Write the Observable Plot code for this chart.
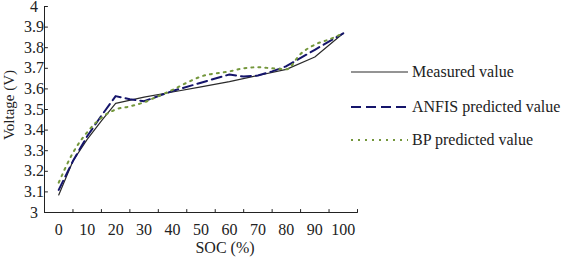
<!DOCTYPE html>
<html>
<head>
<meta charset="utf-8">
<script src="https://cdn.jsdelivr.net/npm/d3@7"></script>
<script src="https://cdn.jsdelivr.net/npm/@observablehq/plot@0.6"></script>
<style>
  html, body { margin: 0; padding: 0; background: #fff; }
  #chart { position: relative; width: 572px; height: 262px; font-family: "Liberation Serif", "Times New Roman", serif; color: #222; }
  #chart svg.plot { position: absolute; left: 0; top: 0; }
  .legend { position: absolute; left: 351px; top: 0; font-size: 16px; }
  .legend .item { position: absolute; left: 0; white-space: nowrap; display: flex; align-items: center; height: 20px; }
  .legend .item svg { display: block; margin-right: 4px; }
  .axis-title { position: absolute; font-size: 16px; white-space: nowrap; line-height: 1; }
  .axis-title.x { left: 225px; top: 248px; transform: translate(-50%, -50%); }
  .axis-title.y { left: 9px; top: 105px; transform: translate(-50%, -50%) rotate(-90deg); font-size: 15px; }
</style>
</head>
<body>
<div id="chart"></div>
<script>
// State of charge (%) and terminal voltage (V) for each series
const measuredSoc = [0, 5, 10, 15, 20, 30, 40, 50, 60, 70, 80, 90, 100];
const measuredV   = [3.085, 3.25, 3.355, 3.445, 3.53, 3.56, 3.585, 3.61, 3.635, 3.665, 3.695, 3.755, 3.87];

const anfisSoc = [0, 5, 10, 15, 20, 25, 30, 35, 40, 50, 60, 65, 70, 75, 80, 90, 100];
const anfisV   = [3.11, 3.25, 3.37, 3.47, 3.565, 3.55, 3.54, 3.565, 3.59, 3.63, 3.67, 3.66, 3.665, 3.685, 3.71, 3.79, 3.87];

const bpSoc = [0, 5, 10, 15, 20, 25, 30, 35, 40, 45, 50, 60, 65, 70, 75, 80, 85, 90, 95, 100];
const bpV   = [3.145, 3.29, 3.39, 3.46, 3.50, 3.515, 3.535, 3.565, 3.595, 3.63, 3.66, 3.685, 3.70, 3.705, 3.70, 3.695, 3.77, 3.815, 3.84, 3.87];

// Axis labels and tick positions
const xLabels = [0, 10, 20, 30, 40, 50, 60, 70, 80, 90, 100];
const xTickMarks = [5, 15, 25, 35, 45, 55, 65, 75, 85, 95, 105];
const yTicks = [3, 3.1, 3.2, 3.3, 3.4, 3.5, 3.6, 3.7, 3.8, 3.9, 4];

const seriesNames = ["Measured value", "ANFIS predicted value", "BP predicted value"];
const xTitle = "SOC (%)";
const yTitle = "Voltage (V)";

const toRows = (soc, v) => soc.map((s, i) => ({soc: s, v: v[i]}));
const measured = toRows(measuredSoc, measuredV);
const anfis = toRows(anfisSoc, anfisV);
const bp = toRows(bpSoc, bpV);

const styles = [
  {stroke: "#2a2a2a", strokeWidth: 1.2, dash: null},
  {stroke: "#15156b", strokeWidth: 2, dash: "10,5"},
  {stroke: "#74973c", strokeWidth: 2, dash: "2,5"}
];

// Short inward tick segment used for both axes
const tickShape = {draw(context, l) { context.moveTo(0, 0); context.lineTo(0, -l); }};

const plot = Plot.plot({
  width: 572,
  height: 262,
  marginLeft: 44,
  marginRight: 215,
  marginTop: 6,
  marginBottom: 50,
  style: {fontFamily: "Liberation Serif, Times New Roman, serif", fontSize: "16px", color: "#222", background: "transparent", overflow: "visible"},
  x: {domain: [-5, 105], axis: null},
  y: {domain: [3, 4], axis: null},
  marks: [
    // axis lines
    Plot.ruleX([-5], {stroke: "#222", strokeWidth: 1}),
    Plot.ruleY([3], {stroke: "#222", strokeWidth: 1}),
    // inward tick marks
    Plot.vector(xTickMarks, {x: d => d, y: 3, length: 3, rotate: 0, anchor: "start", shape: tickShape, stroke: "#222", strokeWidth: 1}),
    Plot.vector(yTicks, {x: -5, y: d => d, length: 3, rotate: 90, anchor: "start", shape: tickShape, stroke: "#222", strokeWidth: 1}),
    // tick labels
    Plot.text(xLabels, {x: d => d, y: 3, text: d => String(d), dy: 17, fontSize: 16, fill: "#222"}),
    Plot.text(yTicks, {x: -5, y: d => d, text: d => d3.format("~g")(d), dx: -10.5, fontSize: 16, fill: "#222"}),
    // series
    Plot.line(measured, {x: "soc", y: "v", stroke: styles[0].stroke, strokeWidth: styles[0].strokeWidth}),
    Plot.line(anfis, {x: "soc", y: "v", stroke: styles[1].stroke, strokeWidth: styles[1].strokeWidth, strokeDasharray: styles[1].dash}),
    Plot.line(bp, {x: "soc", y: "v", stroke: styles[2].stroke, strokeWidth: styles[2].strokeWidth, strokeDasharray: styles[2].dash, curve: "monotone-x"})
  ]
});
plot.classList.add("plot");

const chart = document.getElementById("chart");
chart.appendChild(plot);

// Axis titles
const xt = document.createElement("div");
xt.className = "axis-title x";
xt.textContent = xTitle;
chart.appendChild(xt);
const yt = document.createElement("div");
yt.className = "axis-title y";
yt.textContent = yTitle;
chart.appendChild(yt);

// Legend to the right of the plot area
const legend = document.createElement("div");
legend.className = "legend";
const rowTops = [62, 97, 130];
seriesNames.forEach((name, i) => {
  const item = document.createElement("div");
  item.className = "item";
  item.style.top = rowTops[i] + "px";
  const s = styles[i];
  item.innerHTML =
    `<svg width="57" height="20"><line x1="0" y1="10" x2="57" y2="10" stroke="${s.stroke}" stroke-width="${s.strokeWidth}"${s.dash ? ` stroke-dasharray="${s.dash}"` : ""}/></svg><span>${name}</span>`;
  legend.appendChild(item);
});
chart.appendChild(legend);
</script>
</body>
</html>
